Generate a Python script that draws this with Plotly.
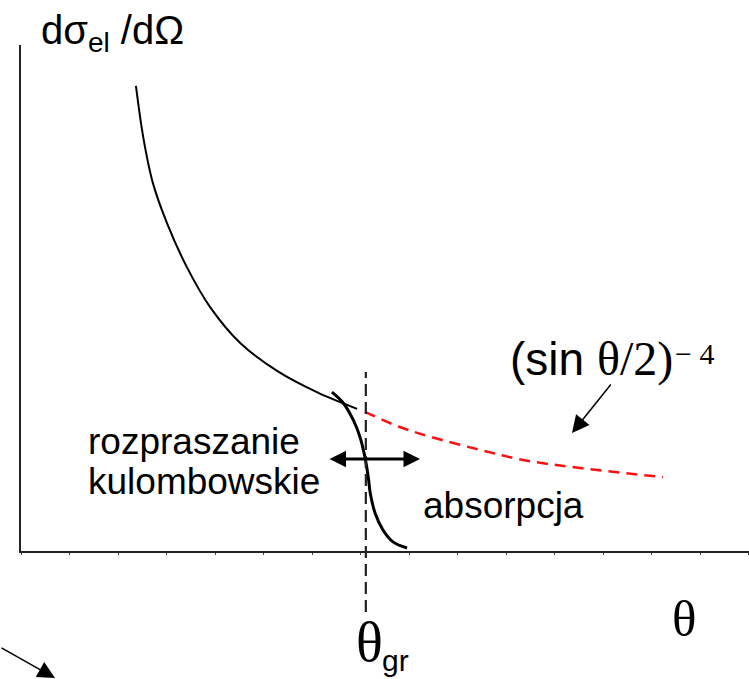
import plotly.graph_objects as go

# ---- data (theta in tick units, cross-section in arbitrary units) ----
coulomb_theta = [2.37, 2.52, 2.72, 3.01, 3.42, 3.90, 4.52, 5.28, 6.10, 6.93]
coulomb_sigma = [9.19, 8.18, 7.27, 6.48, 5.61, 4.82, 4.11, 3.56, 3.14, 2.81]

absorption_theta = [6.41, 6.64, 6.85, 6.99, 7.09, 7.16, 7.20, 7.30, 7.46, 7.67, 7.96]
absorption_sigma = [3.14, 2.93, 2.59, 2.25, 1.86, 1.46, 1.15, 0.75, 0.42, 0.18, 0.06]

rutherford_theta = [7.09, 7.81, 8.47, 9.46, 10.35, 11.53, 13.24]
rutherford_sigma = [2.75, 2.45, 2.25, 2.00, 1.80, 1.64, 1.46]

theta_gr = 7.11

# ---- layout geometry ----
W, H = 749, 679
ML, MR, MT, MB = 21, 0, 45, 128
PW, PH = W - ML - MR, H - MT - MB


def P(px, py):
    """pixel position -> paper coordinates"""
    return (px - ML) / PW, (H - MB - py) / PH


SANS = "Liberation Sans, Arial, sans-serif"
SERIF = "Liberation Serif, Times New Roman, serif"

fig = go.Figure()
fig.add_trace(go.Scatter(x=coulomb_theta, y=coulomb_sigma, mode="lines",
                         line=dict(color="black", width=2, shape="spline"),
                         hoverinfo="skip", showlegend=False))
fig.add_trace(go.Scatter(x=rutherford_theta, y=rutherford_sigma, mode="lines",
                         line=dict(color="#ff1010", width=2.5, shape="spline", dash="11px,7px"),
                         hoverinfo="skip", showlegend=False))
fig.add_trace(go.Scatter(x=absorption_theta, y=absorption_sigma, mode="lines",
                         line=dict(color="black", width=3, shape="spline"),
                         hoverinfo="skip", showlegend=False))

# vertical dashed line at theta_gr
_, y_top = P(0, 372)
_, y_bot = P(0, 612)
fig.add_shape(type="line", xref="x", yref="paper", x0=theta_gr, x1=theta_gr,
              y0=y_bot, y1=y_top, line=dict(color="#222", width=2.2, dash="12px,6px"))

ann = []


def text(px, py, s, size, family=SANS, xanchor="left"):
    x, y = P(px, py)
    ann.append(dict(xref="paper", yref="paper", x=x, y=y, text=s, showarrow=False,
                    xanchor=xanchor, yanchor="middle", align="left",
                    font=dict(family=family, size=size, color="black")))


def arrow(hx, hy, tx, ty, width, size, both=False):
    x, y = P(hx, hy)
    d = dict(xref="paper", yref="paper", x=x, y=y, ax=tx - hx, ay=ty - hy,
             showarrow=True, arrowhead=2, arrowsize=size, arrowwidth=width,
             arrowcolor="black", text="", standoff=0)
    if both:
        d.update(arrowside="end+start", startarrowhead=2, startarrowsize=size, startstandoff=0)
    ann.append(d)


text(39, 33, "dσ<sub>el</sub> /dΩ", 40)
text(508, 359, "(sin <span style='font-family:Liberation Serif;font-size:48px'>θ/2)</span>", 46)
text(673, 353, "− 4", 30, family=SERIF)
text(86, 441, "rozpraszanie", 37)
text(86, 481, "kulombowskie", 37)
text(421, 505, "absorpcja", 37)
text(670, 619, "θ", 51, family=SERIF)
text(354, 642, "θ", 56, family=SERIF)
text(380, 660, "gr", 30)

arrow(420, 459, 328, 459, 3, 1.1, both=True)
arrow(572, 433, 612, 383, 1.5, 2.3)
arrow(55, 681, 0, 647, 1.5, 2.3)

fig.update_layout(
    width=W, height=H, margin=dict(l=ML, r=MR, t=MT, b=MB, pad=0),
    paper_bgcolor="white", plot_bgcolor="white",
    annotations=ann, showlegend=False,
    xaxis=dict(range=[0, PW / 48.5], showgrid=False, zeroline=False, showline=True,
               linecolor="#222", linewidth=2, ticks="outside", ticklen=2, tickwidth=1,
               tickcolor="#444", dtick=1, tick0=0, showticklabels=False, fixedrange=True),
    yaxis=dict(range=[0, PH / 50.6], showgrid=False, zeroline=False, showline=True,
               linecolor="#222", linewidth=2, ticks="", showticklabels=False, fixedrange=True),
)

fig.write_html("out.html", config={"displayModeBar": False},
               post_script="document.body.style.margin='0';document.body.style.overflow='hidden';")
